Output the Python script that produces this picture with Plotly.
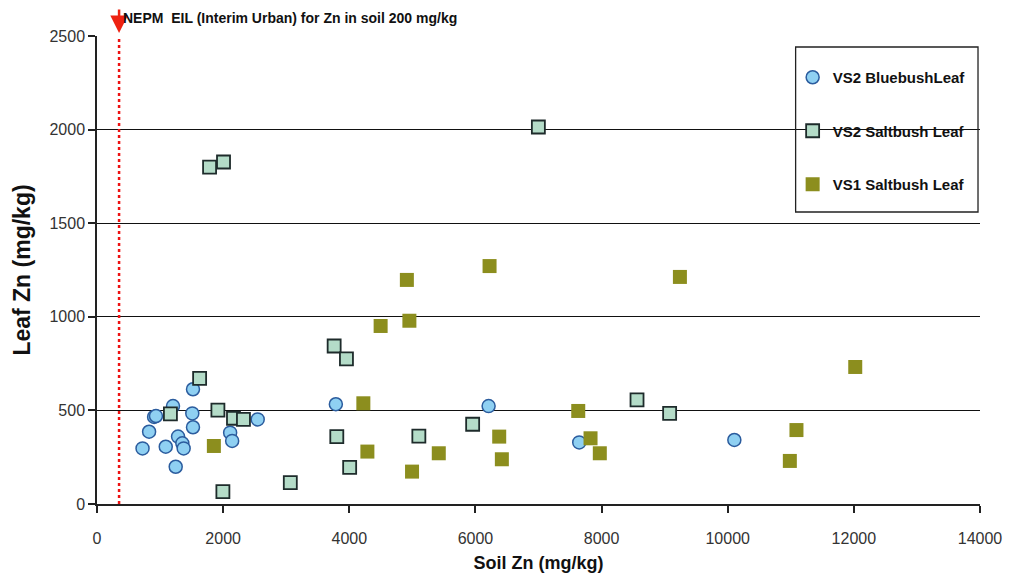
import plotly.graph_objects as go

# VS2 Bluebush Leaf
blue_x = [722, 826, 905, 935, 1090, 1205, 1248, 1285, 1353, 1374, 1522, 1511, 1522, 2111, 2143, 2548, 3787, 6209, 7646, 10105]
blue_y = [297, 386, 465, 470, 306, 523, 199, 360, 324, 297, 613, 484, 410, 381, 337, 452, 533, 523, 329, 342]

# VS2 Saltbush Leaf
salt2_x = [1785, 2006, 6998, 1627, 1164, 1917, 2164, 2322, 1996, 3065, 3760, 3955, 3802, 4006, 5103, 5956, 8562, 9079]
salt2_y = [1800, 1827, 2014, 671, 481, 502, 458, 452, 66, 114, 844, 775, 360, 196, 363, 426, 556, 484]

# VS1 Saltbush Leaf
salt1_x = [1853, 4497, 4953, 4223, 4287, 4995, 5419, 6377, 6419, 4913, 6224, 9242, 12022, 7630, 7825, 7972, 11090, 10985]
salt1_y = [310, 951, 979, 538, 280, 173, 271, 360, 239, 1197, 1271, 1213, 732, 497, 351, 271, 395, 230]

eil_x = 350
x_ticks = [0, 2000, 4000, 6000, 8000, 10000, 12000, 14000]
y_ticks = [0, 500, 1000, 1500, 2000, 2500]

FONT = "Liberation Sans, Arial"

fig = go.Figure()
fig.add_trace(go.Scatter(
    x=blue_x, y=blue_y, mode="markers", name="<b>VS2 BluebushLeaf</b>",
    legendgroup="a",
    marker=dict(symbol="circle", size=13, color="#8fd0f2", line=dict(color="#2b5c9e", width=1.5)),
))
fig.add_trace(go.Scatter(
    x=salt2_x, y=salt2_y, mode="markers", name="<b>VS2 Saltbush Leaf</b>",
    legendgroup="b",
    marker=dict(symbol="square", size=13, color="#b4dcc8", line=dict(color="#1e2b2b", width=1.8)),
))
fig.add_trace(go.Scatter(
    x=salt1_x, y=salt1_y, mode="markers", name="<b>VS1 Saltbush Leaf</b>",
    legendgroup="c",
    marker=dict(symbol="square", size=14, color="#8c8e1e", line=dict(width=0)),
))

# EIL dotted line
fig.add_shape(type="line", x0=eil_x, x1=eil_x, y0=0, y1=2500, xref="x", yref="y",
              line=dict(color="#ee1111", width=2.5, dash="dot"))
fig.add_annotation(x=eil_x, y=2500, xref="x", yref="y", ax=0, ay=-30,
                   showarrow=True, arrowhead=2, arrowsize=1.4, arrowwidth=2.5,
                   arrowcolor="#ee2211", text="", standoff=3)
fig.add_annotation(x=eil_x, y=2500, xref="x", yref="y", xanchor="left", yanchor="bottom",
                   xshift=2, yshift=8, showarrow=False,
                   text="<b>NEPM  EIL (Interim Urban) for Zn in soil 200 mg/kg</b>",
                   font=dict(family=FONT, size=14, color="#111"))

# legend frame (plot area spans pixels 97..983 x, 36..504 y)
fig.add_shape(type="rect", xref="paper", yref="paper",
              x0=(798 - 97) / 886, x1=(981 - 97) / 886,
              y0=(504 - 212) / 468, y1=(504 - 47) / 468,
              line=dict(color="#222", width=1.3), fillcolor="rgba(0,0,0,0)", layer="above")

fig.update_layout(
    width=1006, height=575,
    margin=dict(l=89, r=31, t=28, b=79),
    paper_bgcolor="white", plot_bgcolor="white",
    font=dict(family=FONT, color="#222"),
    showlegend=True,
    legend=dict(x=(795 - 97) / 886, y=(504 - 61) / 468, xanchor="left", yanchor="top",
                borderwidth=0, bgcolor="rgba(255,255,255,0)",
                traceorder="grouped", tracegroupgap=31,
                font=dict(family=FONT, size=15, color="#111"),
                itemwidth=30),
    xaxis=dict(range=[0, 14000], tickvals=x_ticks, ticktext=[str(v) for v in x_ticks],
               showgrid=False, zeroline=False, showline=True, linecolor="#222", linewidth=1.5,
               ticks="outside", ticklen=7, tickcolor="#222", tickwidth=1.5,
               ticklabelstandoff=12,
               tickfont=dict(size=16, color="#333"),
               title=dict(text="<b>Soil Zn (mg/kg)</b>", font=dict(size=18, color="#111"), standoff=10)),
    yaxis=dict(range=[0, 2500], tickvals=y_ticks, ticktext=[str(v) for v in y_ticks],
               showgrid=True, gridcolor="#111", gridwidth=1.3, zeroline=False,
               showline=True, linecolor="#222", linewidth=1.5,
               ticks="outside", ticklen=7, tickcolor="#222", tickwidth=1.5,
               tickfont=dict(size=16, color="#333"),
               title=dict(text="<b>Leaf Zn (mg/kg)</b>", font=dict(size=23, color="#111"), standoff=12)),
)

fig.write_html("out.html")
